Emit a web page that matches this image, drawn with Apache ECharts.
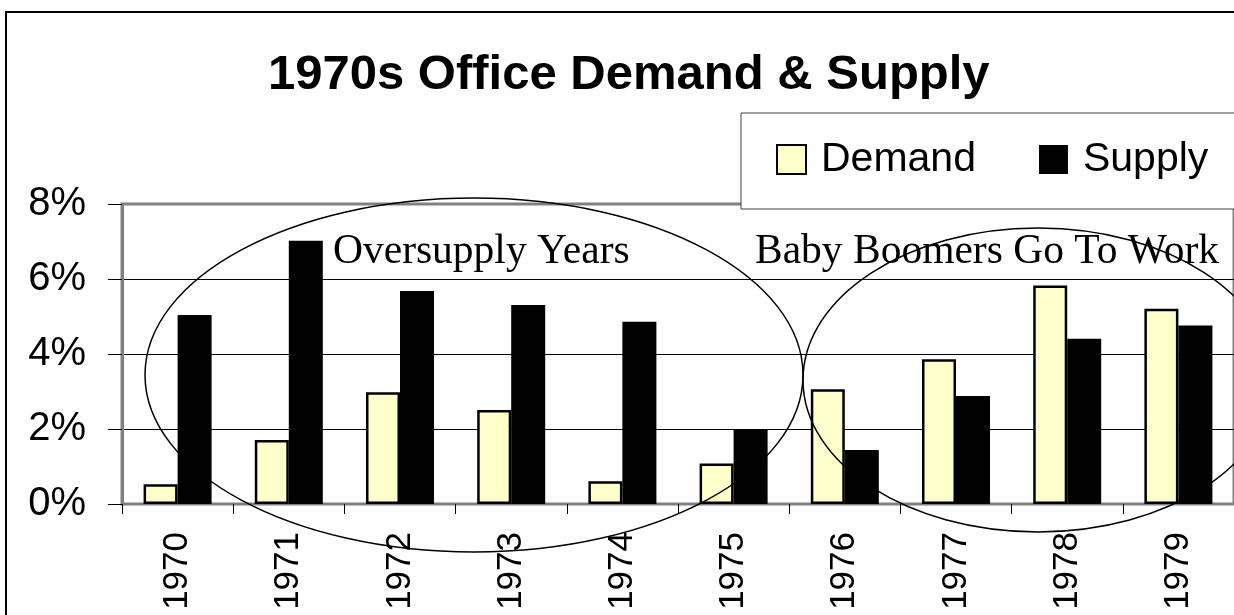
<!DOCTYPE html>
<html>
<head>
<meta charset="utf-8">
<script src="https://cdn.jsdelivr.net/npm/echarts@6/dist/echarts.min.js"></script>
<style>
  html, body { margin: 0; padding: 0; background: #fff; }
  #chart { width: 1234px; height: 615px; }
</style>
</head>
<body>
<div id="chart"></div>
<script>
// office demand vs supply, % per year
const years = ['1970', '1971', '1972', '1973', '1974', '1975', '1976', '1977', '1978', '1979'];
const demand = [0.53, 1.71, 2.98, 2.51, 0.61, 1.08, 3.06, 3.86, 5.83, 5.21];
const supply = [5.04, 7.02, 5.68, 5.31, 4.86, 1.99, 1.44, 2.88, 4.41, 4.76];
const yTicks = [0, 2, 4, 6, 8];

const chart = echarts.init(document.getElementById('chart'));

const option = {
  backgroundColor: '#fff',
  animation: false,
  title: {
    text: '1970s Office Demand & Supply',
    left: 268,
    top: 51,
    padding: 0,
    textStyle: {
      fontFamily: 'Liberation Sans, Arial',
      fontWeight: 'bold',
      fontSize: 49,
      color: '#000'
    }
  },
  legend: {
    left: 776,
    top: 139,
    padding: 0,
    itemGap: 63,
    itemWidth: 29,
    itemHeight: 29,
    textStyle: {
      fontFamily: 'Liberation Sans, Arial',
      fontSize: 41,
      color: '#000',
      padding: [0, 0, 0, 10]
    },
    data: [
      {name: 'Demand', icon: 'rect', itemStyle: {color: '#FFFFCC', borderColor: '#000', borderWidth: 2}},
      {name: 'Supply', icon: 'rect', itemStyle: {color: '#000', borderColor: '#000', borderWidth: 0}}
    ]
  },
  grid: {
    left: 122,
    top: 204,
    width: 1127,
    height: 300,
    show: true,
    borderColor: '#808080',
    borderWidth: 3,
    backgroundColor: 'transparent'
  },
  xAxis: {
    type: 'category',
    data: years,
    axisLine: {lineStyle: {color: '#808080', width: 2}},
    axisTick: {show: true, length: 10, lineStyle: {color: '#000', width: 1}},
    axisLabel: {
      rotate: 90,
      margin: 28,
      fontFamily: 'Liberation Sans, Arial',
      fontSize: 35,
      color: '#000'
    }
  },
  yAxis: {
    type: 'value',
    min: yTicks[0],
    max: yTicks[yTicks.length - 1],
    interval: 2,
    axisLine: {show: true, lineStyle: {color: '#808080', width: 3}},
    axisTick: {show: true, length: 14, lineStyle: {color: '#000', width: 1}},
    axisLabel: {
      margin: 36,
      formatter: '{value}%',
      fontFamily: 'Liberation Sans, Arial',
      fontSize: 40,
      color: '#000'
    },
    splitLine: {
      show: true,
      lineStyle: {color: ['#000', '#000', '#000', '#000', '#808080'], width: 1}
    }
  },
  series: [
    {
      name: 'Demand',
      type: 'bar',
      data: demand,
      barWidth: 34,
      barGap: '0%',
      itemStyle: {color: '#FFFFCC', borderColor: '#000', borderWidth: 2.5}
    },
    {
      name: 'Supply',
      type: 'bar',
      data: supply,
      barWidth: 34,
      itemStyle: {color: '#000', borderColor: '#000', borderWidth: 2}
    }
  ],
  graphic: [
    {
      type: 'rect',
      z: 100,
      shape: {x: 6, y: 12, width: 1400, height: 800},
      style: {fill: 'none', stroke: '#000', lineWidth: 2}
    },
    // legend frame, runs off the right edge like the original
    {
      type: 'rect',
      z: 1,
      shape: {x: 741, y: 113, width: 600, height: 96},
      style: {fill: '#fff', stroke: '#404040', lineWidth: 1}
    },
    {
      type: 'ellipse',
      z: 100,
      shape: {cx: 474, cy: 375, rx: 329, ry: 177},
      style: {fill: 'none', stroke: '#000', lineWidth: 1.5}
    },
    {
      type: 'ellipse',
      z: 100,
      shape: {cx: 1038, cy: 380, rx: 235, ry: 152},
      style: {fill: 'none', stroke: '#000', lineWidth: 1.5}
    },
    {
      type: 'text',
      z: 100,
      style: {
        text: 'Oversupply Years',
        x: 333,
        y: 252,
        textVerticalAlign: 'middle',
        font: '41.5px "Liberation Serif", "Times New Roman", serif',
        fill: '#000'
      }
    },
    {
      type: 'text',
      z: 100,
      style: {
        text: 'Baby Boomers Go To Work',
        x: 755,
        y: 252,
        textVerticalAlign: 'middle',
        font: '41.5px "Liberation Serif", "Times New Roman", serif',
        fill: '#000'
      }
    }
  ]
};

chart.setOption(option);
</script>
</body>
</html>
